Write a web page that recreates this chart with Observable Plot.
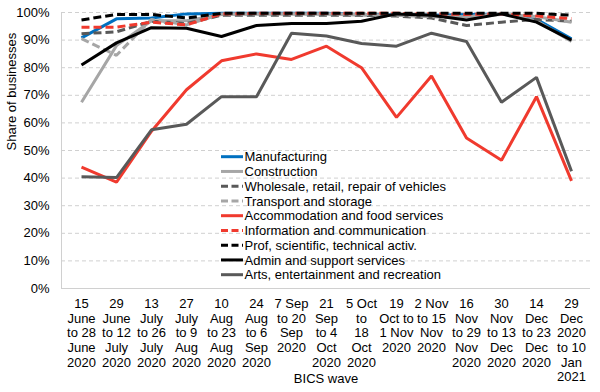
<!DOCTYPE html>
<html>
<head>
<meta charset="utf-8">
<script src="https://cdn.jsdelivr.net/npm/d3@7"></script>
<script src="https://cdn.jsdelivr.net/npm/@observablehq/plot@0.6"></script>
<style>
  html, body { margin: 0; padding: 0; background: #fff; }
  #chart { width: 600px; height: 392px; }
</style>
</head>
<body>
<div id="chart"></div>
<script>
const waves = [
  "15\nJune\nto 28\nJune\n2020",
  "29\nJune\nto 12\nJuly\n2020",
  "13\nJuly\nto 26\nJuly\n2020",
  "27\nJuly\nto 9\nAug\n2020",
  "10\nAug\nto 23\nAug\n2020",
  "24\nAug\nto 6\nSep\n2020",
  "7 Sep\nto 20\nSep\n2020",
  "21\nSep\nto 4\nOct\n2020",
  "5 Oct\nto\n18\nOct\n2020",
  "19\nOct to\n1 Nov\n2020",
  "2 Nov\nto 15\nNov\n2020",
  "16\nNov\nto 29\nNov\n2020",
  "30\nNov\nto 13\nDec\n2020",
  "14\nDec\nto 23\nDec\n2020",
  "29\nDec\n2020\nto 10\nJan\n2021"
];

const seriesNames = [
  "Manufacturing",
  "Construction",
  "Wholesale, retail, repair of vehicles",
  "Transport and storage",
  "Accommodation and food services",
  "Information and communication",
  "Prof, scientific, technical activ.",
  "Admin and support services",
  "Arts, entertainment and recreation"
];

const manufacturing = [90.8, 97.7, 98.0, 99.5, 99.7, 99.7, 99.7, 99.7, 99.3, 99.3, 99.0, 99.3, 99.5, 97.5, 90.5];
const construction  = [67.5, 88.0, 97.0, 97.0, 99.3, 99.5, 99.5, 99.5, 99.0, 99.0, 98.7, 98.5, 99.7, 97.0, 89.5];
const wholesale     = [92.3, 93.0, 96.8, 96.0, 99.0, 99.0, 99.0, 99.0, 99.0, 98.7, 98.0, 95.3, 96.5, 97.5, 96.8];
const transport     = [90.5, 84.5, 97.5, 95.5, 99.5, 99.5, 99.5, 99.5, 99.3, 99.0, 98.5, 98.0, 99.3, 98.5, 96.5];
const accommodation = [44.0, 38.5, 57.0, 72.0, 82.5, 85.0, 83.0, 87.8, 80.0, 62.0, 77.0, 54.5, 46.5, 69.5, 39.0];
const information   = [94.7, 94.7, 96.5, 95.5, 99.5, 99.7, 99.7, 99.7, 99.7, 99.7, 99.5, 99.3, 99.5, 98.7, 97.8];
const professional  = [97.3, 99.3, 99.3, 98.0, 99.7, 99.7, 99.7, 99.7, 99.7, 99.7, 99.7, 99.7, 99.7, 99.7, 99.0];
const admin         = [81.0, 89.0, 94.5, 94.3, 91.3, 95.3, 96.0, 96.0, 96.8, 99.5, 99.0, 97.3, 99.5, 96.5, 90.0];
const arts          = [40.5, 40.2, 57.5, 59.5, 69.5, 69.5, 92.5, 91.5, 88.8, 87.8, 92.5, 89.5, 67.5, 76.5, 42.5];

const seriesValues = [manufacturing, construction, wholesale, transport, accommodation, information, professional, admin, arts];
const seriesColors = ["#0070C0", "#A6A6A6", "#595959", "#A6A6A6", "#F03A2E", "#F03A2E", "#000000", "#000000", "#595959"];
const seriesDash   = [null, null, "8,4", "8,4", null, "8,4", "8,4", null, null];

const yTicks = [0, 0.1, 0.2, 0.3, 0.4, 0.5, 0.6, 0.7, 0.8, 0.9, 1.0];

const rows = [];
seriesNames.forEach((name, s) => {
  seriesValues[s].forEach((v, i) => rows.push({series: name, s, i, v: v / 100}));
});

const FONT = "'Liberation Sans', Arial, sans-serif";

const lineMarks = seriesNames.map((name, s) =>
  Plot.line(rows.filter(d => d.s === s), {
    x: "i", y: "v",
    stroke: seriesColors[s],
    strokeWidth: 3,
    strokeDasharray: seriesDash[s] || undefined,
    strokeLinejoin: "miter",
    strokeLinecap: "butt"
  })
);

const chart = Plot.plot({
  width: 600,
  height: 392,
  marginLeft: 61,
  marginRight: 10,
  marginTop: 12,
  marginBottom: 104,
  style: {fontFamily: FONT, fontSize: "13px", color: "#000", background: "#fff"},
  x: {type: "point", domain: d3.range(waves.length), padding: 0.5},
  y: {domain: [0, 1]},
  marks: [
    Plot.gridY(yTicks, {stroke: "#D0D0D0", strokeOpacity: 1, strokeDasharray: "4,3"}),
    Plot.ruleY([0], {stroke: "#D0D0D0"}),
    Plot.frame({anchor: "left", stroke: "#D0D0D0"}),
    Plot.axisY(yTicks, {tickSize: 0, tickPadding: 12, tickFormat: d3.format(".0%"), label: null, fontSize: 13, fill: "#000"}),
    Plot.axisX(d3.range(waves.length), {tickSize: 0, tickPadding: 9, tickFormat: i => waves[i], label: null, lineHeight: 1.13, fontSize: 13, fill: "#000", textAnchor: "middle"}),
    Plot.text(["Share of businesses"], {frameAnchor: "left", dx: -50, rotate: -90, fontSize: 13, fill: "#000"}),
    Plot.text(["BICS wave"], {frameAnchor: "bottom", dy: 94, fontSize: 13, fill: "#000"}),
    ...lineMarks
  ]
});

// legend drawn inside the plot area
const svg = d3.select(chart);
const leg = svg.append("g").attr("font-family", FONT).attr("font-size", 13).attr("text-anchor", "start");
seriesNames.forEach((name, s) => {
  const y = 156.7 + s * 14.75;
  leg.append("line")
    .attr("x1", 221).attr("x2", 243).attr("y1", y).attr("y2", y)
    .attr("stroke", seriesColors[s]).attr("stroke-width", 3)
    .attr("stroke-dasharray", seriesDash[s] ? "7,3.5" : null);
  leg.append("text")
    .attr("x", 244.5).attr("y", y).attr("dy", "0.35em")
    .attr("text-anchor", "start")
    .attr("fill", "#000").text(name);
});

document.getElementById("chart").appendChild(chart);
</script>
</body>
</html>
